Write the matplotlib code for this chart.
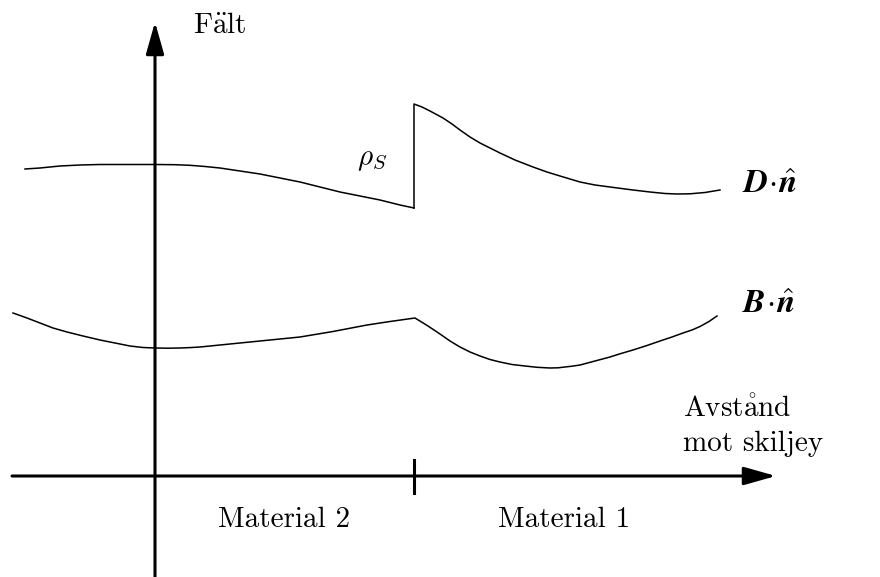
import matplotlib
matplotlib.use("Agg")
import matplotlib.pyplot as plt

plt.rcParams['font.family'] = ['cmr10', 'DejaVu Serif']
plt.rcParams['mathtext.fontset'] = 'cm'
plt.rcParams['axes.unicode_minus'] = False

# kurvor (pixelkoordinater, y nedåt)
d_left_x = [25, 40, 60, 80, 100, 130, 155, 175, 190, 205, 220, 240, 260, 280,
            300, 320, 340, 360, 380, 400, 414]
d_left_y = [169, 168, 166, 165, 164.5, 164.5, 164.5, 164.7, 165.3, 166.5, 168,
            171, 174, 178, 182, 187, 192, 196, 200, 205, 208]
d_right_x = [414, 414, 422, 430, 443, 452, 460, 470, 480, 490, 500, 515, 533,
             547, 560, 570, 580, 595, 610, 633, 650, 665, 677, 690, 705, 720]
d_right_y = [208, 104, 107, 111, 118, 124, 130, 137, 143, 148, 153, 160, 167,
             172, 176, 179, 182, 185, 187, 190, 192, 193.5, 194, 193.8, 192.5, 190]

b_x = [13, 27, 40, 53, 67, 83, 100, 115, 130, 143, 155, 168, 180, 190, 200,
       225, 250, 275, 300, 333, 367, 390, 415,
       428, 440, 450, 460, 470, 480, 490, 500, 512, 525, 537, 550, 558, 565,
       572, 580, 595, 610, 621, 633, 647, 660, 672, 683, 692, 700, 709, 717]
b_y = [313, 318, 323, 328, 332, 336, 340, 343, 346, 347.5, 348, 348.2, 348,
       347.6, 347, 344.5, 342, 339.5, 337, 331.5, 325, 321.5, 318,
       326, 334, 341, 347, 352, 356, 359.5, 362, 364.5, 366, 367.3, 368, 367.8,
       367, 366.2, 365, 361, 357, 353.5, 350, 345.5, 341, 337, 333, 330, 326.5,
       321.5, 316]

# axlar
y_axis_x = 155
x_axis_y = 476
grans_x = 414

fig = plt.figure(figsize=(8.8, 5.77), dpi=100)
ax = fig.add_axes([0, 0, 1, 1])
ax.set_xlim(0, 880)
ax.set_ylim(577, 0)
ax.axis('off')

pil = dict(arrowstyle='-|>,head_length=1.95,head_width=0.55', lw=2.2, color='k',
           shrinkA=0, shrinkB=0, mutation_scale=10)
ax.annotate('', xy=(y_axis_x, 22), xytext=(y_axis_x, 577), arrowprops=pil)
ax.annotate('', xy=(776, x_axis_y), xytext=(12, x_axis_y), arrowprops=pil)
ax.plot([grans_x, grans_x], [460, 493], color='k', lw=2.2)

ax.plot(d_left_x, d_left_y, color='k', lw=1.1)
ax.plot(d_right_x, d_right_y, color='k', lw=1.1)
ax.plot(b_x, b_y, color='k', lw=1.1)

fs = 21
ax.text(193, 33, r'F$\ddot{\mathrm{a}}$lt', fontsize=fs, ha='left', va='baseline')
ax.text(683, 417, r'Avst$\mathring{\mathrm{a}}$nd', fontsize=fs, ha='left', va='baseline')
ax.text(683, 451, 'mot skiljey', fontsize=fs, ha='left', va='baseline')
ax.text(218, 527, 'Material 2', fontsize=fs, ha='left', va='baseline')
ax.text(498, 527, 'Material 1', fontsize=fs, ha='left', va='baseline')
ax.text(357, 160, r'$\rho_S$', fontsize=fs, ha='left', va='center')
ax.text(742, 193, r'$\mathbfit{D}\!\cdot\!\hat{\mathbfit{n}}$', fontsize=24, ha='left', va='baseline')
ax.text(742, 313, r'$\mathbfit{B}\!\cdot\!\hat{\mathbfit{n}}$', fontsize=24, ha='left', va='baseline')

fig.savefig('out.png', dpi=100)
